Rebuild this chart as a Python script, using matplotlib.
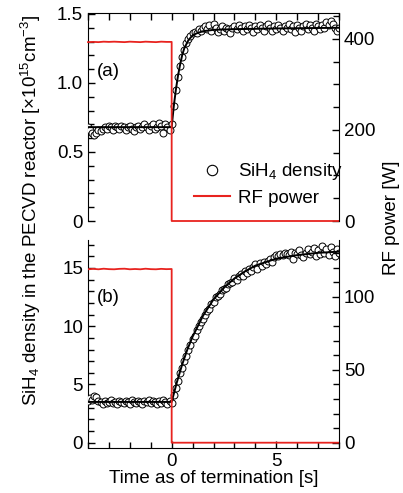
import numpy as np
import matplotlib.pyplot as plt
from matplotlib.lines import Line2D
from matplotlib.ticker import MultipleLocator

plt.rcParams['font.family'] = ['Liberation Sans', 'DejaVu Sans']
plt.rcParams['mathtext.fontset'] = 'custom'
plt.rcParams['mathtext.rm'] = 'Liberation Sans'
plt.rcParams['mathtext.it'] = 'Liberation Sans:italic'
FS = 13.5
plt.rcParams['font.size'] = FS

RED = '#e8231f'

# sampling time of the density measurement [s]
t = np.round(np.linspace(-4.0, 8.0, 121), 1)

# (a) SiH4 density [x1e15 cm^-3]
dens_a = [0.68, 0.66, 0.64, 0.62, 0.64, 0.66, 0.65, 0.67, 0.68, 0.67,
          0.69, 0.68, 0.66, 0.69, 0.68, 0.67, 0.69, 0.68, 0.66, 0.68,
          0.69, 0.67, 0.65, 0.68, 0.69, 0.67, 0.68, 0.70, 0.68, 0.66,
          0.69, 0.70, 0.67, 0.68, 0.71, 0.69, 0.64, 0.70, 0.68, 0.66,
          0.70, 0.83, 0.95, 1.04, 1.12, 1.19, 1.24, 1.29, 1.32, 1.34,
          1.36, 1.37, 1.36, 1.39, 1.38, 1.40, 1.41, 1.39, 1.42, 1.38,
          1.43, 1.40, 1.37, 1.39, 1.41, 1.38, 1.40, 1.39, 1.36, 1.40,
          1.41, 1.39, 1.42, 1.40, 1.38, 1.41, 1.39, 1.42, 1.40, 1.37,
          1.41, 1.39, 1.42, 1.40, 1.38, 1.41, 1.43, 1.40, 1.38, 1.41,
          1.39, 1.42, 1.40, 1.38, 1.41, 1.40, 1.43, 1.39, 1.41, 1.37,
          1.42, 1.40, 1.38, 1.41, 1.43, 1.39, 1.42, 1.40, 1.38, 1.43,
          1.41, 1.39, 1.42, 1.40, 1.44, 1.42, 1.45, 1.43, 1.40, 1.38, 1.40]

# (b) SiH4 density
dens_b = [3.6, 3.8, 3.7, 4.0, 3.9, 3.6, 3.5, 3.3, 3.6, 3.4,
          3.5, 3.7, 3.4, 3.5, 3.3, 3.6, 3.5, 3.4, 3.6, 3.5,
          3.3, 3.7, 3.5, 3.4, 3.6, 3.5, 3.3, 3.6, 3.5, 3.7,
          3.4, 3.6, 3.5, 3.3, 3.6, 3.4, 3.7, 3.5, 3.3, 3.6,
          3.4, 4.1, 4.7, 5.3, 6.0, 6.4, 7.0, 7.4, 8.0, 8.4,
          8.9, 9.2, 9.7, 10.0, 10.4, 10.6, 11.0, 11.3, 11.5, 11.9,
          12.1, 12.5, 12.6, 12.8, 13.1, 13.2, 13.3, 13.6, 13.7, 13.8,
          14.1, 14.0, 14.3, 14.5, 14.3, 14.7, 14.6, 14.9, 14.7, 15.1,
          15.3, 14.9, 15.4, 15.2, 15.5, 15.3, 15.6, 15.8, 15.5, 15.9,
          16.1, 16.0, 16.2, 16.1, 16.3, 16.2, 16.1, 16.4, 15.8, 16.3,
          16.2, 16.5, 16.1, 15.9, 16.3, 16.6, 16.2, 16.4, 16.7, 16.0,
          16.5, 16.2, 16.9, 16.3, 16.6, 16.1, 16.8, 16.4, 16.0, 16.6, 16.3]

# fitted curves
fit_t = [-4.0, 0.0, 0.1, 0.2, 0.3, 0.4, 0.5, 0.6, 0.8, 1.0, 1.2, 1.5, 2.0, 3.0, 5.0, 8.0]
fit_a = [0.68, 0.68, 0.83, 0.95, 1.05, 1.13, 1.20, 1.25, 1.31, 1.345, 1.36, 1.375,
         1.385, 1.39, 1.395, 1.40]
fit_tb = [-4.0, 0.0, 0.25, 0.5, 0.75, 1.0, 1.5, 2.0, 2.5, 3.0, 3.5, 4.0, 5.0, 6.0, 7.0, 8.0]
fit_b = [3.5, 3.5, 5.2, 6.7, 8.0, 9.1, 10.9, 12.3, 13.3, 14.1, 14.7, 15.2, 15.8, 16.1,
         16.3, 16.4]

# RF power [W]
pw_t = [-4.0, -3.75, -3.5, -3.25, -3.0, -2.75, -2.5, -2.25, -2.0, -1.75, -1.5,
        -1.25, -1.0, -0.75, -0.5, -0.25, 0.0, 0.0, 8.0]
pw_a = [393, 393.5, 393, 394, 393.5, 394, 393.5, 393, 394, 393.5, 393, 394, 393.5, 393,
        394, 393.5, 393.5, 0, 0]
pw_b = [119, 119.3, 119, 119.4, 119.1, 119, 119.3, 119.4, 119, 119.2, 119, 119.4, 119.1,
        119, 119.3, 119.1, 119.2, 0, 0]

fig = plt.figure(figsize=(4.03, 4.93), dpi=100)
W, H = 403.0, 493.0
x0, x1 = 88, 339


def make_axes(top, bot):
    ax = fig.add_axes([x0 / W, 1 - bot / H, (x1 - x0) / W, (bot - top) / H])
    ax2 = ax.twinx()
    ax.set_xlim(-4, 8)
    ax.spines['right'].set_visible(False)
    for s in ['left', 'top', 'bottom']:
        ax2.spines[s].set_visible(False)
    for a in (ax, ax2):
        a.tick_params(which='both', direction='in', width=1, labelsize=FS)
        a.tick_params(which='major', length=5)
        a.tick_params(which='minor', length=4)
    return ax, ax2


# panel (a)
ax, ax2 = make_axes(13, 221)
ax.plot(t, dens_a, 'o', ms=5, mfc='white', mec='black', mew=0.7, zorder=3)
ax.plot(fit_t, fit_a, '-', color='black', lw=1.4, zorder=4)
ax2.plot(pw_t, pw_a, '-', color=RED, lw=1.3, clip_on=False)
ax.set_ylim(0, 1.507)
ax2.set_ylim(0, 457)
ax.spines['bottom'].set_visible(False)
ax.tick_params(axis='x', which='both', bottom=False, labelbottom=False, top=True)
ax.xaxis.set_major_locator(MultipleLocator(1))
ax.yaxis.set_minor_locator(MultipleLocator(0.1))
ax.set_yticks([0, 0.5, 1.0, 1.5], ['0', '0.5', '1.0', '1.5'])
ax2.yaxis.set_major_locator(MultipleLocator(200))
ax2.yaxis.set_minor_locator(MultipleLocator(50))
fig.text(97 / W, 1 - 72 / H, '(a)', ha='left', va='center', fontsize=FS)

handles = [Line2D([], [], ls='', marker='o', ms=7.5, mfc='white', mec='black', mew=0.8),
           Line2D([], [], color=RED, lw=1.5)]
fig.legend(handles, ['SiH$_4$ density', 'RF power'], loc='center left',
           bbox_to_anchor=(185 / W, 1 - 184 / H), frameon=False, borderpad=0,
           handlelength=1.9, handletextpad=0.45, labelspacing=0.4, fontsize=FS)

# panel (b)
bx, bx2 = make_axes(240, 448)
bx.plot(t, dens_b, 'o', ms=5, mfc='white', mec='black', mew=0.7, zorder=3)
bx.plot(fit_tb, fit_b, '-', color='black', lw=1.4, zorder=4)
bx2.plot(pw_t, pw_b, '-', color=RED, lw=1.3)
bx.set_ylim(-0.455, 17.4)
bx2.set_ylim(-3.64, 139.1)
bx.spines['top'].set_visible(False)
bx.spines['left'].set_bounds(0, 17.4)
bx2.spines['right'].set_bounds(0, 139.1)
bx.tick_params(axis='x', which='both', top=False)
bx.xaxis.set_major_locator(MultipleLocator(5))
bx.xaxis.set_minor_locator(MultipleLocator(1))
bx.yaxis.set_major_locator(MultipleLocator(5))
bx.yaxis.set_minor_locator(MultipleLocator(1))
bx2.yaxis.set_major_locator(MultipleLocator(50))
bx2.yaxis.set_minor_locator(MultipleLocator(10))
bx.set_xlabel('Time as of termination [s]', fontsize=FS, labelpad=0)
fig.text(97 / W, 1 - 298 / H, '(b)', ha='left', va='center', fontsize=FS)

fig.text(31 / W, 1 - 210 / H,
         'SiH$_4$ density in the PECVD reactor [×10$^{15}$cm$^{-3}$]',
         rotation=90, ha='center', va='center', fontsize=FS)
fig.text(392 / W, 1 - 218 / H, 'RF power [W]', rotation=90,
         ha='center', va='center', fontsize=FS)

fig.savefig('out.png', dpi=100)
